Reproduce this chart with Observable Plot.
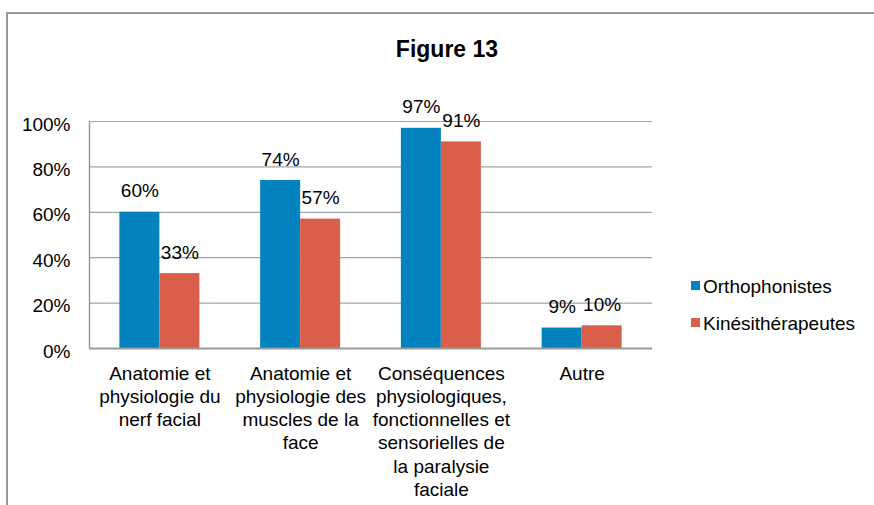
<!DOCTYPE html>
<html><head><meta charset="utf-8">
<script src="https://cdn.jsdelivr.net/npm/d3@7"></script>
<script src="https://cdn.jsdelivr.net/npm/@observablehq/plot@0.6"></script>
<style>
body{margin:0;background:#fff;font-family:"Liberation Sans",Arial,sans-serif;}
#wrap{position:relative;width:874px;height:505px;overflow:hidden;background:#fff;}
#frame{position:absolute;left:6px;top:12px;width:900px;height:540px;border:2px solid #9a9a9a;box-sizing:border-box;}
#title{position:absolute;left:10px;width:874px;top:36px;line-height:26px;text-align:center;font-weight:bold;font-size:23px;color:#000;}
#chart{position:absolute;left:0;top:80px;}
#legend{position:absolute;left:691px;top:276px;font-size:19px;color:#000;}
#legend .item{height:37px;line-height:22px;white-space:nowrap;}
#legend .sw{display:inline-block;width:9px;height:9px;margin-right:3px;vertical-align:middle;position:relative;top:-2px;}
</style></head>
<body>
<div id="wrap">
  <div id="frame"></div>
  <div id="title"></div>
  <div id="chart"></div>
  <div id="legend"></div>
</div>
<script>
const titleText = "Figure 13";
const categories = [
  "Anatomie et\nphysiologie du\nnerf facial",
  "Anatomie et\nphysiologie des\nmuscles de la\nface",
  "Conséquences\nphysiologiques,\nfonctionnelles et\nsensorielles de\nla paralysie\nfaciale",
  "Autre"
];
const seriesNames = ["Orthophonistes", "Kinésithérapeutes"];
const orthophonistes = [60, 74, 97, 9];
const kinesitherapeutes = [33, 57, 91, 10];
const yTicks = [0, 20, 40, 60, 80, 100];
const colors = ["#0283BF", "#DA5F4B"];

document.getElementById("title").textContent = titleText;

const half = 40 / 140.75; // width of one bar in category units
const rows = [];
categories.forEach((c, i) => {
  rows.push({i, series: seriesNames[0], value: orthophonistes[i], x1: i - half, x2: i});
  rows.push({i, series: seriesNames[1], value: kinesitherapeutes[i], x1: i, x2: i + half});
});
rows.forEach(d => d.xm = (d.x1 + d.x2) / 2);

const chart = Plot.plot({
  width: 874,
  height: 425,
  marginLeft: 89,
  marginRight: 222,
  marginTop: 41,
  marginBottom: 157,
  style: {fontFamily: "'Liberation Sans', Arial, sans-serif", fontSize: "19px", color: "#000", background: "transparent", overflow: "visible"},
  x: {domain: [-0.5, categories.length - 0.5], axis: null},
  y: {domain: [0, 100], axis: null},
  color: {domain: seriesNames, range: colors},
  marks: [
    Plot.ruleY(yTicks.filter(t => t > 0), {stroke: "#a3a3a3", strokeWidth: 1.2}),
    Plot.rectY(rows, {x1: "x1", x2: "x2", y: "value", fill: "series"}),
    Plot.ruleY([0], {stroke: "#9a9a9a", strokeWidth: 2}),
    Plot.ruleX([-0.5], {y1: 0, y2: 100, stroke: "#9a9a9a", strokeWidth: 1.5}),
    Plot.axisY({ticks: yTicks, tickSize: 0, tickPadding: 19, tickFormat: d => d + "%", fontSize: 19, dy: 3, label: null}),
    Plot.axisX({ticks: d3.range(categories.length), tickSize: 0, tickPadding: 15, tickFormat: i => categories[i], fontSize: 19, lineHeight: 1.22, label: null}),
    Plot.text(rows, {x: "xm", y: "value", text: d => d.value + "%", dy: -21, fontSize: 19, fill: "#000"})
  ]
});
document.getElementById("chart").appendChild(chart);

const legend = document.getElementById("legend");
seriesNames.forEach((s, k) => {
  const item = document.createElement("div");
  item.className = "item";
  const sw = document.createElement("span");
  sw.className = "sw";
  sw.style.background = colors[k];
  item.appendChild(sw);
  item.appendChild(document.createTextNode(s));
  legend.appendChild(item);
});
</script>
</body></html>
